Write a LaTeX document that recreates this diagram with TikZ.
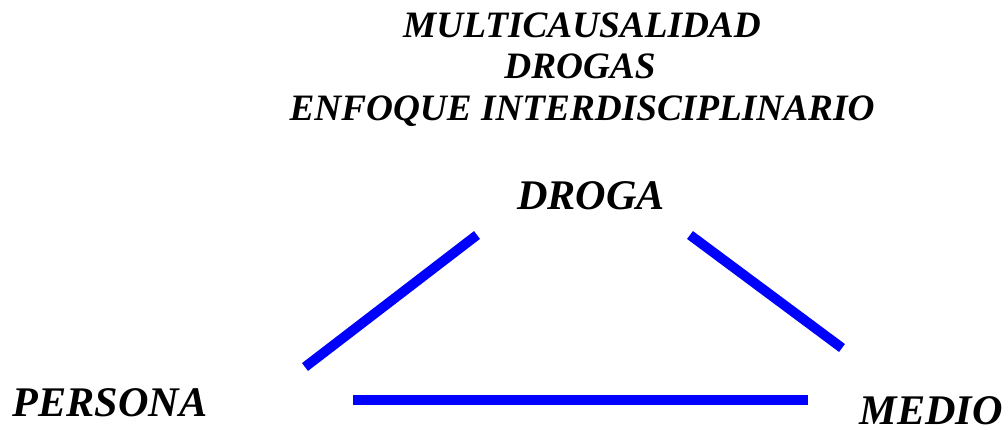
\documentclass[tikz,border=0pt]{standalone}
\usepackage{fontspec}
\setmainfont{Liberation Serif}
\begin{document}
\begin{tikzpicture}
[ x=0.025cm, y=-0.025cm
, point/.style={coordinate}
, heading/.style={anchor=base, font=\bfseries\itshape\fontsize{26.5}{32}\selectfont, inner sep=0pt}
, corner/.style={anchor=base, font=\bfseries\itshape\fontsize{30}{36}\selectfont, inner sep=0pt}
, side/.style={draw=blue, line width=7pt}
]
\useasboundingbox (0,0) rectangle (1008,429);
% Heading:
\node (multi) [heading] at (582,37) {MULTICAUSALIDAD};
\node (drogas) [heading] at (580,78) {DROGAS};
\node (enfoque) [heading] at (582,120) {ENFOQUE INTERDISCIPLINARIO};
% Corners:
\node (droga) [corner] at (591,209) {DROGA};
\node (persona) [corner] at (110,416) {PERSONA};
\node (medio) [corner] at (931,424) {MEDIO};
% Triangle:
\coordinate (p1) at (305,367);
\coordinate (p2) at (477,235);
\coordinate (p3) at (690,235);
\coordinate (p4) at (842,348);
\coordinate (p5) at (353,400);
\coordinate (p6) at (808,400);
\draw [side] (p1) -- (p2);
\draw [side] (p3) -- (p4);
\draw [side] (p5) -- (p6);
\end{tikzpicture}
\end{document}
